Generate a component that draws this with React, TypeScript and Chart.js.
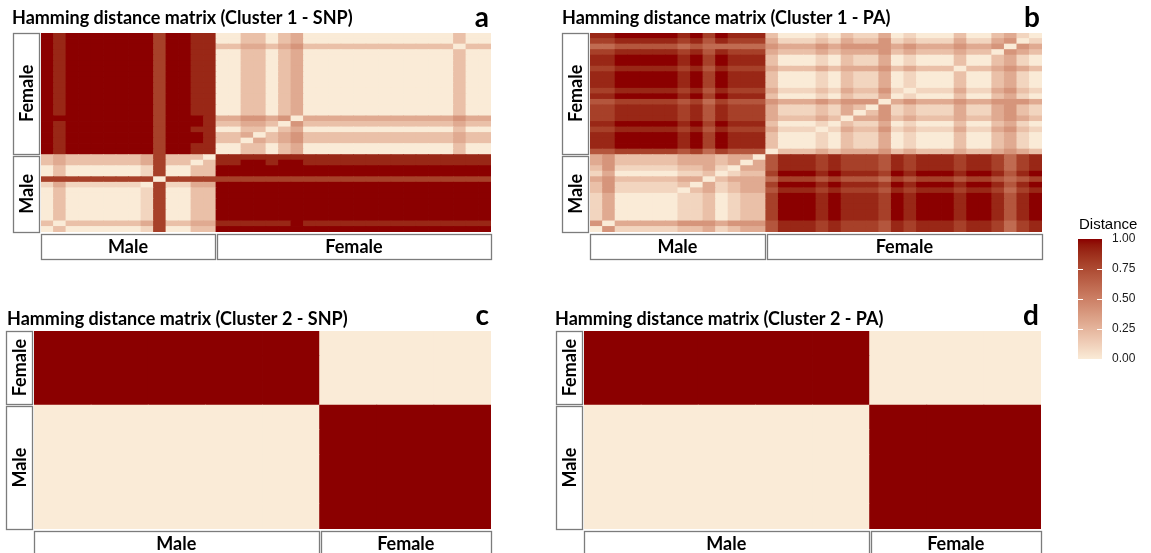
import React, { useEffect, useRef } from "react";
import { Chart, registerables } from "chart.js";

Chart.register(...registerables);

// ---------------- data ----------------
// Sample groups (x: left -> right, y: bottom -> top, same order)
const sexGroups = ["Male", "Female"];
const cluster1Counts = [14, 22];
const cluster2Counts = [5, 3];

// Hamming distance per cell, one character per sample: 0..9 = 0.0..0.9, X = 1.0
// rows listed bottom -> top; "|" separates male and female columns
const snp1Rows = [
  "0200000 0180022 | XXXXXXX XXXXXXX XXXXXXXX",
  "2022222 2382233 | 999999X 9999999 99999999",
  "0200000 0180022 | XXXXXXX XXXXXXX XXXXXXXX",
  "0200000 0180022 | XXXXXXX XXXXXXX XXXXXXXX",
  "0200000 0180022 | XXXXXXX XXXXXXX XXXXXXXX",
  "0200000 0180022 | XXXXXXX XXXXXXX XXXXXXXX",
  "0200000 0180022 | XXXXXXX XXXXXXX XXXXXXXX",
  "0200000 0180022 | XXXXXXX XXXXXXX XXXXXXXX",
  "1311111 1081133 | XXXXXXX XXXXXXX XXXXXXXX",
  "8888888 8808888 | 8888888 8888888 88888888",
  "0200000 0180022 | XXXXXXX XXXXXXX XXXXXXXX",
  "0200000 0180022 | XXXXXXX XXXXXXX XXXXXXXX",
  "2322222 2382202 | 99XX9XX 9999999 99999999",
  "2322222 2382220 | 9999999 9999999 99999999",
  "X9XXXXX XX8XX99 | 0022023 0000000 00000200",
  "X9XXXXX XX8XX99 | 0022023 0000000 00000200",
  "X9XXXXX XX8XXX9 | 2203234 2222222 22222322",
  "X9XXXXX XX8XXX9 | 2230234 2222222 22222322",
  "X9XXXXX XX8XX99 | 0022023 0000000 00000200",
  "X9XXXXX XX8XXX9 | 2233204 2222222 22222322",
  "XXXXXXX XX8XXX9 | 3344340 3333333 33333433",
  "X9XXXXX XX8XX99 | 0022023 0000000 00000200",
  "X9XXXXX XX8XX99 | 0022023 0000000 00000200",
  "X9XXXXX XX8XX99 | 0022023 0000000 00000200",
  "X9XXXXX XX8XX99 | 0022023 0000000 00000200",
  "X9XXXXX XX8XX99 | 0022023 0000000 00000200",
  "X9XXXXX XX8XX99 | 0022023 0000000 00000200",
  "X9XXXXX XX8XX99 | 0022023 0000000 00000200",
  "X9XXXXX XX8XX99 | 0022023 0000000 00000200",
  "X9XXXXX XX8XX99 | 0022023 0000000 00000200",
  "X9XXXXX XX8XX99 | 0022023 0000000 00000200",
  "X9XXXXX XX8XX99 | 0022023 0000000 00000200",
  "X9XXXXX XX8XX99 | 0022023 0000000 00000200",
  "X9XXXXX XX8XX99 | 2233234 2222222 22222022",
  "X9XXXXX XX8XX99 | 0022023 0000000 00000200",
  "X9XXXXX XX8XX99 | 0022023 0000000 00000200",
];

const pa1Rows = [
  "0411111 2231233 | 7999898 8879899 98998689",
  "4033333 4443444 | 7999898 8879899 98998689",
  "1300000 1120122 | 8XXX9X9 998X9XX X9XX979X",
  "1300000 1120122 | 8XXX9X9 998X9XX X9XX979X",
  "1300000 1120122 | 8XXX9X9 998X9XX X9XX979X",
  "1300000 1120122 | 8XXX9X9 998X9XX X9XX979X",
  "1300000 1120122 | 8XXX9X9 998X9XX X9XX979X",
  "2411111 0231233 | 7999898 8879899 98998689",
  "2411111 2031233 | 8XXX9X9 998X9XX X9XX979X",
  "3422222 3302333 | 6888787 7768788 87887678",
  "1300000 1120122 | 8XXX9X9 998X9XX X9XX979X",
  "2411111 2231033 | 7999898 8879899 98998689",
  "3422222 3332303 | 7999898 8879899 98998689",
  "3422222 3332330 | 7999898 8879899 98998689",
  "7788888 7868777 | 0222323 3342322 23223432",
  "99XXXXX 9X8X999 | 2000102 1130100 02002310",
  "99XXXXX 9X8X999 | 2000102 1130100 02002310",
  "99XXXXX 9X8X999 | 2000102 1130100 02002310",
  "8899999 8979888 | 3111013 2241211 13113421",
  "99XXXXX 9X8X999 | 2000102 1130100 02002310",
  "8899999 8979888 | 3222320 3342322 23223432",
  "8899999 8979888 | 3111213 0241211 13113421",
  "8899999 8979888 | 3111213 2041211 13113421",
  "7788888 7868777 | 4333434 4403433 34334443",
  "99XXXXX 9X8X999 | 2000102 1130100 02002310",
  "8899999 8979888 | 3111213 2241011 13113421",
  "99XXXXX 9X8X999 | 2000102 1130100 02002310",
  "99XXXXX 9X8X999 | 2000102 1130100 02002310",
  "99XXXXX 9X8X999 | 2000102 1130100 02002310",
  "8899999 8979888 | 3222323 3342322 20223432",
  "99XXXXX 9X8X999 | 2000102 1130100 02002310",
  "99XXXXX 9X8X999 | 2000102 1130100 02002310",
  "8899999 8979888 | 3222323 3342322 23220432",
  "6677777 6766666 | 4333434 4443433 34334043",
  "8899999 8979888 | 3111213 2241211 13113401",
  "99XXXXX 9X8X999 | 2000102 1130100 02002310",
];

const snp2Rows = [
  "00000 | XXX",
  "00000 | XXX",
  "00000 | XXX",
  "00000 | XXX",
  "00000 | XXX",
  "XXXXX | 000",
  "XXXXX | 000",
  "XXXXX | 000",
];

const pa2Rows = [
  "00000 | XXX",
  "00000 | XXX",
  "00000 | XXX",
  "00000 | XXX",
  "00000 | XXX",
  "XXXXX | 000",
  "XXXXX | 000",
  "XXXXX | 000",
];

const panelTitles = [
  "Hamming distance matrix (Cluster 1 - SNP)",
  "Hamming distance matrix (Cluster 1 - PA)",
  "Hamming distance matrix (Cluster 2 - SNP)",
  "Hamming distance matrix (Cluster 2 - PA)",
];
const panelLetters = ["a", "b", "c", "d"];

const legendTitle = "Distance";
const legendRange = [0, 1];
const legendBreaks = [0, 0.25, 0.5, 0.75, 1];
const lowColor = "#FAEBD7";
const highColor = "#8B0000";

// ---------------- colour scale (Lab interpolation, like ggplot) ----------------
const W = 1151;
const H = 553;

function hexToRgb(hex: string): number[] {
  const n = parseInt(hex.slice(1), 16);
  return [(n >> 16) & 255, (n >> 8) & 255, n & 255];
}
const toLin = (c: number) => {
  c /= 255;
  return c <= 0.04045 ? c / 12.92 : Math.pow((c + 0.055) / 1.055, 2.4);
};
const fromLin = (c: number) => {
  const v = c <= 0.0031308 ? 12.92 * c : 1.055 * Math.pow(Math.max(c, 0), 1 / 2.4) - 0.055;
  return Math.round(Math.min(1, Math.max(0, v)) * 255);
};
const EPS = 216 / 24389;
const KAPPA = 24389 / 27;
function rgbToLab(rgb: number[]): number[] {
  const [r, g, b] = rgb.map(toLin);
  const X = (0.4124564 * r + 0.3575761 * g + 0.1804375 * b) / 0.95047;
  const Y = 0.2126729 * r + 0.7151522 * g + 0.072175 * b;
  const Z = (0.0193339 * r + 0.119192 * g + 0.9503041 * b) / 1.08883;
  const f = (t: number) => (t > EPS ? Math.cbrt(t) : (KAPPA * t + 16) / 116);
  const fx = f(X), fy = f(Y), fz = f(Z);
  return [116 * fy - 16, 500 * (fx - fy), 200 * (fy - fz)];
}
function labToRgb(lab: number[]): number[] {
  const [L, a, b] = lab;
  const fy = (L + 16) / 116;
  const fx = fy + a / 500;
  const fz = fy - b / 200;
  const finv = (t: number) => (t * t * t > EPS ? t * t * t : (116 * t - 16) / KAPPA);
  const X = finv(fx) * 0.95047;
  const Y = finv(fy);
  const Z = finv(fz) * 1.08883;
  const r = 3.2404542 * X - 1.5371385 * Y - 0.4985314 * Z;
  const g = -0.969266 * X + 1.8760108 * Y + 0.041556 * Z;
  const bb = 0.0556434 * X - 0.2040259 * Y + 1.0572252 * Z;
  return [fromLin(r), fromLin(g), fromLin(bb)];
}
const LOW_LAB = rgbToLab(hexToRgb(lowColor));
const HIGH_LAB = rgbToLab(hexToRgb(highColor));
function colorFor(v: number): string {
  const t = Math.min(1, Math.max(0, v));
  const lab = LOW_LAB.map((c, i) => c + (HIGH_LAB[i] - c) * t);
  const [r, g, b] = labToRgb(lab);
  return `rgb(${r},${g},${b})`;
}

const decodeRow = (s: string) =>
  s
    .replace(/[\s|]/g, "")
    .split("")
    .map((ch) => (ch === "X" ? 1 : Number(ch) / 10));

// ---------------- drawing helpers ----------------
const TEXT_FONT = "Lato, 'Open Sans', sans-serif";

function drawStrip(
  ctx: CanvasRenderingContext2D,
  x0: number,
  y0: number,
  x1: number,
  y1: number,
  text: string,
  vertical: boolean
) {
  const l = Math.round(x0) + 0.5;
  const t = Math.round(y0) + 0.5;
  const w = Math.round(x1) - Math.round(x0);
  const h = Math.round(y1) - Math.round(y0);
  ctx.fillStyle = "#ffffff";
  ctx.fillRect(l, t, w, h);
  ctx.strokeStyle = "#7c7c7c";
  ctx.lineWidth = 1.3;
  ctx.strokeRect(l, t, w, h);
  ctx.fillStyle = "#000";
  ctx.font = `bold 18px ${TEXT_FONT}`;
  ctx.textAlign = "center";
  ctx.textBaseline = "middle";
  const cx = (x0 + x1) / 2;
  const cy = (y0 + y1) / 2;
  if (vertical) {
    ctx.save();
    ctx.translate(cx + 1, cy);
    ctx.rotate(-Math.PI / 2);
    ctx.fillText(text, 0, 0);
    ctx.restore();
  } else {
    ctx.fillText(text, cx, cy + 1);
  }
}

const panelDecor = {
  id: "panelDecor",
  afterDraw(chart: any, _args: any, opts: any) {
    const { ctx, chartArea: ca, scales } = chart;
    const x = scales.x;
    const y = scales.y;
    const [nm, nf] = opts.counts;
    const n = nm + nf;
    ctx.save();
    // title + panel letter
    ctx.fillStyle = "#000";
    ctx.font = `bold 18px ${TEXT_FONT}`;
    ctx.textAlign = "left";
    ctx.textBaseline = "alphabetic";
    ctx.fillText(opts.title, opts.titleX, opts.titleY);
    ctx.font = `bold 28px ${TEXT_FONT}`;
    ctx.textAlign = "right";
    ctx.fillText(opts.letter, ca.right - 2, opts.letterY);
    // row strips on the left
    const sx0 = ca.left - 28;
    const sx1 = ca.left - 2;
    const yM0 = y.getPixelForValue(0);
    const yM1 = y.getPixelForValue(nm);
    const yF1 = y.getPixelForValue(n);
    drawStrip(ctx, sx0, yM1 + 1, sx1, yM0, sexGroups[0], true);
    drawStrip(ctx, sx0, yF1, sx1, yM1 - 1, sexGroups[1], true);
    // column strips at the bottom
    const by0 = ca.bottom + 2;
    const by1 = ca.bottom + 27;
    const xM0 = x.getPixelForValue(-0.5);
    const xM1 = x.getPixelForValue(nm - 0.5);
    const xF1 = x.getPixelForValue(n - 0.5);
    drawStrip(ctx, xM0, by0, xM1 - 1, by1, sexGroups[0], false);
    drawStrip(ctx, xM1 + 1, by0, xF1, by1, sexGroups[1], false);
    ctx.restore();
  },
};

const colorbarDecor = {
  id: "colorbarDecor",
  afterDraw(chart: any, _args: any, opts: any) {
    const { ctx, chartArea: ca, scales } = chart;
    const y = scales.y;
    ctx.save();
    ctx.strokeStyle = "#ffffff";
    ctx.lineWidth = 1;
    opts.breaks.forEach((b: number) => {
      if (b <= legendRange[0] || b >= legendRange[1]) return;
      const py = Math.round(y.getPixelForValue(b)) + 0.5;
      ctx.beginPath();
      ctx.moveTo(ca.left, py);
      ctx.lineTo(ca.left + 5, py);
      ctx.moveTo(ca.right - 5, py);
      ctx.lineTo(ca.right, py);
      ctx.stroke();
    });
    ctx.fillStyle = "#000";
    ctx.font = "15px 'Liberation Sans', Arial, sans-serif";
    ctx.textAlign = "left";
    ctx.textBaseline = "alphabetic";
    ctx.fillText(opts.title, ca.left + 1, ca.top - 10);
    ctx.restore();
  },
};

// ---------------- panels (layout) ----------------
type Panel = {
  rows: string[];
  counts: number[];
  title: string;
  letter: string;
  area: { left: number; top: number; right: number; bottom: number };
  titleX: number;
  titleY: number;
  letterY: number;
};

const PANELS: Panel[] = [
  { rows: snp1Rows, counts: cluster1Counts, title: panelTitles[0], letter: panelLetters[0],
    area: { left: 41, top: 33, right: 491, bottom: 232 }, titleX: 12, titleY: 24, letterY: 27 },
  { rows: pa1Rows, counts: cluster1Counts, title: panelTitles[1], letter: panelLetters[1],
    area: { left: 590, top: 33, right: 1042, bottom: 232 }, titleX: 562, titleY: 24, letterY: 27 },
  { rows: snp2Rows, counts: cluster2Counts, title: panelTitles[2], letter: panelLetters[2],
    area: { left: 34, top: 331, right: 491, bottom: 529 }, titleX: 7, titleY: 325, letterY: 325 },
  { rows: pa2Rows, counts: cluster2Counts, title: panelTitles[3], letter: panelLetters[3],
    area: { left: 584, top: 331, right: 1041, bottom: 529 }, titleX: 555, titleY: 325, letterY: 325 },
];

function heatmapConfig(p: Panel): any {
  const rows = p.rows.map(decodeRow);
  const n = rows.length;
  const labels = p.counts.flatMap((c, g) =>
    Array.from({ length: c }, (_, i) => `${sexGroups[g][0]}${i + 1}`)
  );
  return {
    type: "bar",
    data: {
      labels,
      datasets: rows.map((row, r) => ({
        label: `row ${r + 1}`,
        data: row.map(() => 1),
        backgroundColor: row.map(colorFor),
        borderWidth: 0,
        barPercentage: 1,
        categoryPercentage: 1,
        inflateAmount: 0.4,
      })),
    },
    options: {
      responsive: false,
      maintainAspectRatio: false,
      animation: false,
      events: [],
      layout: {
        padding: {
          left: p.area.left,
          top: p.area.top,
          right: W - p.area.right,
          bottom: H - p.area.bottom,
        },
      },
      plugins: {
        legend: { display: false },
        tooltip: { enabled: false },
        title: { display: false },
        panelDecor: {
          counts: p.counts,
          title: p.title,
          letter: p.letter,
          titleX: p.titleX,
          titleY: p.titleY,
          letterY: p.letterY,
        },
      },
      scales: {
        x: { display: false, stacked: true },
        y: { display: false, stacked: true, min: 0, max: n },
      },
    },
    plugins: [panelDecor],
  };
}

function legendConfig(): any {
  return {
    type: "bar",
    data: {
      labels: [legendTitle],
      datasets: [
        {
          data: [legendRange],
          borderWidth: 0,
          barPercentage: 1,
          categoryPercentage: 1,
          backgroundColor: (context: any) => {
            const { chart } = context;
            const { ctx, chartArea } = chart;
            if (!chartArea) return highColor;
            const g = ctx.createLinearGradient(0, chartArea.bottom, 0, chartArea.top);
            for (let i = 0; i <= 20; i++) g.addColorStop(i / 20, colorFor(i / 20));
            return g;
          },
        },
      ],
    },
    options: {
      responsive: false,
      maintainAspectRatio: false,
      animation: false,
      events: [],
      layout: { padding: { left: 1078, top: 239, right: 4, bottom: H - 359 } },
      plugins: {
        legend: { display: false },
        tooltip: { enabled: false },
        colorbarDecor: { breaks: legendBreaks, title: legendTitle },
      },
      scales: {
        x: { display: false },
        y: {
          position: "right",
          min: legendRange[0],
          max: legendRange[1],
          afterBuildTicks: (s: any) => {
            s.ticks = legendBreaks.map((v) => ({ value: v }));
          },
          afterFit: (s: any) => {
            s.width = 45;
          },
          ticks: {
            callback: (v: any) => Number(v).toFixed(2),
            font: { family: "'Liberation Sans', Arial, sans-serif", size: 12 },
            color: "#1a1a1a",
            padding: 10,
          },
          grid: { display: false, drawTicks: false },
          border: { display: false },
        },
      },
    },
    plugins: [colorbarDecor],
  };
}

export default function App() {
  const panelRefs = useRef<(HTMLCanvasElement | null)[]>([]);
  const legendRef = useRef<HTMLCanvasElement | null>(null);

  useEffect(() => {
    const charts: Chart[] = [];
    PANELS.forEach((p, i) => {
      const cv = panelRefs.current[i];
      if (cv) charts.push(new Chart(cv, heatmapConfig(p)));
    });
    if (legendRef.current) charts.push(new Chart(legendRef.current, legendConfig()));
    return () => charts.forEach((c) => c.destroy());
  }, []);

  const canvasStyle: React.CSSProperties = {
    position: "absolute",
    left: 0,
    top: 0,
    width: W,
    height: H,
  };

  return (
    <div
      style={{
        position: "absolute",
        left: 0,
        top: 0,
        width: W,
        height: H,
        background: "#ffffff",
        overflow: "hidden",
      }}
    >
      {PANELS.map((_, i) => (
        <canvas
          key={i}
          ref={(el) => {
            panelRefs.current[i] = el;
          }}
          width={W}
          height={H}
          style={canvasStyle}
        />
      ))}
      <canvas ref={legendRef} width={W} height={H} style={canvasStyle} />
    </div>
  );
}
